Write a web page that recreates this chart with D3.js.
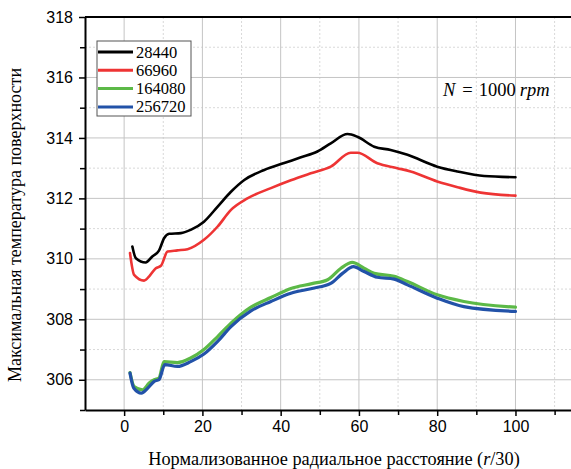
<!DOCTYPE html>
<html>
<head>
<meta charset="utf-8">
<script src="https://cdn.jsdelivr.net/npm/d3@7/dist/d3.min.js"></script>
<style>
  body { margin: 0; background: #fff; }
  svg { display: block; }
</style>
</head>
<body>
<div id="chart"></div>
<script>
// series values: [x, temperature]
const series28440 = [[2.1, 310.41], [3, 310.02], [5.5, 309.88], [7.2, 310.08], [8.9, 310.27], [10.2, 310.68],
  [11.5, 310.83], [14.5, 310.85], [17, 310.96], [20.4, 311.23], [23.9, 311.73], [27.3, 312.22], [30.7, 312.61],
  [35.8, 312.94], [40.9, 313.17], [45, 313.35], [49.4, 313.55], [52.8, 313.82], [57.1, 314.13], [59.6, 314.04],
  [63.9, 313.71], [68.1, 313.6], [72.4, 313.44], [80, 313.05], [85.2, 312.89], [92, 312.74], [100, 312.7]];
const series66960 = [[1.5, 310.19], [2.55, 309.47], [5.1, 309.28], [6.4, 309.42], [8.1, 309.69], [9.4, 309.77],
  [11.1, 310.24], [13.6, 310.28], [16.2, 310.32], [20.4, 310.63], [23.9, 311.07], [27.3, 311.62], [31.5, 312.0],
  [37.5, 312.34], [42.6, 312.6], [47.7, 312.83], [52.8, 313.05], [57.9, 313.51], [59.6, 313.51], [64.7, 313.16],
  [69.8, 313.0], [73.2, 312.89], [80, 312.56], [85.2, 312.37], [91.1, 312.19], [100, 312.09]];
const series164080 = [[1.5, 306.24], [2.55, 305.78], [4.7, 305.67], [6.4, 305.89], [7.7, 306.0], [8.9, 306.06],
  [10.2, 306.6], [13.6, 306.57], [17, 306.72], [20.4, 307.0], [23.9, 307.43], [27.3, 307.87], [32.4, 308.4],
  [37.5, 308.72], [42.6, 309.02], [48, 309.18], [52, 309.31], [55.4, 309.69], [58.3, 309.88], [61.3, 309.69],
  [63.9, 309.52], [69, 309.42], [72.4, 309.25], [80, 308.81], [86.8, 308.59], [100, 308.4]];
const series256720 = [[1.5, 306.22], [2.45, 305.73], [4.4, 305.56], [6.1, 305.73], [7.7, 305.95], [8.9, 306.0],
  [10.4, 306.5], [13.6, 306.44], [17, 306.6], [20.4, 306.85], [23.9, 307.27], [27.3, 307.76], [32.4, 308.28],
  [37.5, 308.59], [42.6, 308.86], [48, 309.02], [52.8, 309.19], [55.8, 309.52], [58.6, 309.74], [61.3, 309.58],
  [64.7, 309.39], [69, 309.33], [72.4, 309.14], [80, 308.7], [86.8, 308.42], [100, 308.26]];

const seriesNames = ['28440', '66960', '164080', '256720'];
const seriesData = [series28440, series66960, series164080, series256720];
const seriesColors = ['#000000', '#ee3434', '#5cb947', '#2252a8'];
const seriesWidths = [2.6, 2.6, 3.2, 3.2];

const xMajorTicks = [0, 20, 40, 60, 80, 100];
const xMinorTicks = [10, 30, 50, 70, 90, 110];
const yMajorTicks = [306, 308, 310, 312, 314, 316, 318];
const yMinorTicks = [305, 307, 309, 311, 313, 315, 317];

const width = 571;
const height = 469;
const plot = { left: 85, top: 17, bottom: 410, right: 582 };

const svg = d3.select('#chart')
  .append('svg')
  .attr('width', width)
  .attr('height', height);

const x = d3.scaleLinear().domain([-10, 117]).range([plot.left, plot.right]);
const y = d3.scaleLinear().domain([305, 318]).range([plot.bottom, plot.top]);

// grid: minor dashed first, then major solid
const grid = svg.append('g');
grid.selectAll('.xminor').data(xMinorTicks).enter().append('line')
  .attr('x1', d => x(d)).attr('x2', d => x(d))
  .attr('y1', plot.top).attr('y2', plot.bottom)
  .attr('stroke', '#d9d9d9').attr('stroke-dasharray', '2,2');
grid.selectAll('.yminor').data(yMinorTicks.filter(d => d > 305)).enter().append('line')
  .attr('x1', plot.left).attr('x2', plot.right)
  .attr('y1', d => y(d)).attr('y2', d => y(d))
  .attr('stroke', '#d9d9d9').attr('stroke-dasharray', '2,2');
grid.selectAll('.xmajor').data(xMajorTicks).enter().append('line')
  .attr('x1', d => x(d)).attr('x2', d => x(d))
  .attr('y1', plot.top).attr('y2', plot.bottom)
  .attr('stroke', '#c4c4c4');
grid.selectAll('.ymajor').data(yMajorTicks).enter().append('line')
  .attr('x1', plot.left).attr('x2', plot.right)
  .attr('y1', d => y(d)).attr('y2', d => y(d))
  .attr('stroke', '#c4c4c4');

// curves
const line = d3.line()
  .x(d => x(d[0]))
  .y(d => y(d[1]))
  .curve(d3.curveMonotoneX);

svg.append('g').selectAll('path')
  .data(seriesData)
  .enter()
  .append('path')
  .attr('d', line)
  .attr('fill', 'none')
  .attr('stroke', (d, i) => seriesColors[i])
  .attr('stroke-width', (d, i) => seriesWidths[i])
  .attr('stroke-linejoin', 'round')
  .attr('stroke-linecap', 'round');

// axes
const tickFont = '"Liberation Sans", Arial, sans-serif';

svg.append('g')
  .attr('transform', `translate(0, ${plot.bottom})`)
  .call(d3.axisBottom(x).tickValues(xMajorTicks).tickSize(6).tickPadding(5).tickSizeOuter(0));
svg.append('g')
  .attr('transform', `translate(0, ${plot.bottom})`)
  .call(d3.axisBottom(x).tickValues(xMinorTicks).tickSize(5).tickFormat('').tickSizeOuter(0))
  .call(g => g.select('.domain').remove());

svg.append('g')
  .attr('transform', `translate(${plot.left}, 0)`)
  .call(d3.axisLeft(y).tickValues(yMajorTicks).tickSize(6).tickPadding(6).tickSizeOuter(0));
svg.append('g')
  .attr('transform', `translate(${plot.left}, 0)`)
  .call(d3.axisLeft(y).tickValues(yMinorTicks).tickSize(5).tickFormat('').tickSizeOuter(0))
  .call(g => g.select('.domain').remove());

svg.selectAll('.domain').attr('stroke', '#000').attr('stroke-width', 2);
svg.selectAll('.tick line').attr('stroke', '#000').attr('stroke-width', 1.5);
svg.selectAll('.tick text')
  .attr('font-family', tickFont)
  .attr('font-size', 16)
  .attr('fill', '#000');

// top spine
svg.append('line')
  .attr('x1', plot.left).attr('x2', plot.right)
  .attr('y1', plot.top).attr('y2', plot.top)
  .attr('stroke', '#000').attr('stroke-width', 2);

// axis titles
const serif = '"Liberation Serif", "Times New Roman", serif';

const xTitle = svg.append('text')
  .attr('x', 334)
  .attr('y', 465)
  .attr('text-anchor', 'middle')
  .attr('font-family', serif)
  .attr('font-size', 18.3)
  .attr('fill', '#000');
xTitle.append('tspan').text('Нормализованное радиальное расстояние (');
xTitle.append('tspan').attr('font-style', 'italic').text('r');
xTitle.append('tspan').text('/30)');

svg.append('text')
  .attr('transform', 'translate(21, 225) rotate(-90)')
  .attr('text-anchor', 'middle')
  .attr('font-family', serif)
  .attr('font-size', 18)
  .attr('fill', '#000')
  .text('Максимальная температура поверхности');

// annotation
const note = svg.append('text')
  .attr('x', 443)
  .attr('y', 96)
  .attr('font-family', serif)
  .attr('font-size', 18.5)
  .attr('fill', '#000');
note.append('tspan').attr('font-style', 'italic').text('N');
note.append('tspan').attr('dx', 7).text('=');
note.append('tspan').attr('dx', 6).text('1000');
note.append('tspan').attr('dx', 4).attr('font-style', 'italic').text('rpm');

// legend
const legend = svg.append('g').attr('transform', 'translate(97, 41)');
legend.append('rect')
  .attr('width', 94).attr('height', 75)
  .attr('fill', '#fff')
  .attr('stroke', '#555').attr('stroke-width', 1);

const legendItems = legend.selectAll('.legend-item')
  .data(seriesNames)
  .enter()
  .append('g')
  .attr('class', 'legend-item')
  .attr('transform', (d, i) => `translate(0, ${11 + i * 18.3})`);

legendItems.append('line')
  .attr('x1', 1).attr('x2', 36)
  .attr('stroke', (d, i) => seriesColors[i])
  .attr('stroke-width', 3);

legendItems.append('text')
  .attr('x', 39)
  .attr('y', 5.5)
  .attr('font-family', serif)
  .attr('font-size', 16.5)
  .attr('fill', '#000')
  .text(d => d);
</script>
</body>
</html>
